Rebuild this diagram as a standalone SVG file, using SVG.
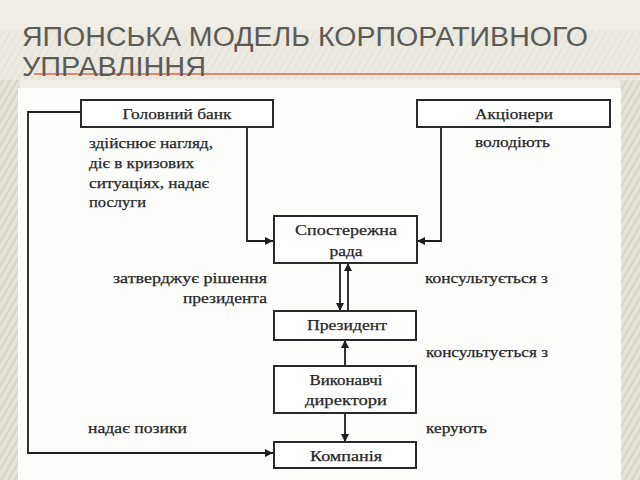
<svg xmlns="http://www.w3.org/2000/svg" width="640" height="480" viewBox="0 0 640 480">
  <defs>
    <pattern id="stripes" width="6" height="6" patternUnits="userSpaceOnUse" patternTransform="rotate(30)">
      <rect width="6" height="6" fill="#e6e3d9"/>
      <rect width="2" height="6" fill="#d7d3c6"/>
    </pattern>
    <marker id="arr" viewBox="0 0 10 10" refX="10" refY="5" markerWidth="10" markerHeight="8" markerUnits="userSpaceOnUse" orient="auto">
      <path d="M0,0 L10,5 L0,10 z" fill="#1e1e1e"/>
    </marker>
    <style>
      .title { font-family: "Liberation Sans", Arial, sans-serif; font-size: 27px; fill: #5b5b58; }
      .box { fill: #ffffff; stroke: #2a2a2a; stroke-width: 2; }
      .lbl { font-family: "Liberation Serif", "Times New Roman", serif; font-size: 15px; fill: #262626; stroke: #262626; stroke-width: 0.25; }
      .c { text-anchor: middle; }
      .r { text-anchor: end; }
      .ln { fill: none; stroke: #1e1e1e; stroke-width: 1.8; }
    </style>
  </defs>

  <!-- background -->
  <rect width="640" height="480" fill="#efede6"/>
  <rect x="0" y="80" width="20" height="400" fill="url(#stripes)"/>
  <rect x="620" y="80" width="20" height="400" fill="url(#stripes)"/>
  <rect x="0" y="30" width="640" height="50" fill="url(#stripes)" opacity="0.35"/>

  <!-- title -->
  <text class="title" x="22" y="46" textLength="566" lengthAdjust="spacingAndGlyphs">ЯПОНСЬКА МОДЕЛЬ КОРПОРАТИВНОГО</text>
  <line x1="34" y1="74" x2="640" y2="74" stroke="#d9694c" stroke-width="1.3"/>
  <text class="title" x="22" y="76" textLength="184" lengthAdjust="spacingAndGlyphs">УПРАВЛІННЯ</text>

  <!-- picture panel -->
  <rect x="18" y="88" width="603" height="392" fill="#fdfdfc"/>

  <!-- connectors -->
  <g id="connectors">
    <polyline class="ln" points="247,127 247,241 273,241" marker-end="url(#arr)"/>
    <polyline class="ln" points="441,127 441,241 417,241" marker-end="url(#arr)"/>
    <polyline class="ln" points="81,112 28,112 28,453 273,453" marker-end="url(#arr)"/>
    <line class="ln" x1="340" y1="263" x2="340" y2="311" marker-end="url(#arr)"/>
    <line class="ln" x1="348" y1="311" x2="348" y2="263" marker-end="url(#arr)"/>
    <line class="ln" x1="345" y1="366" x2="345" y2="340" marker-end="url(#arr)"/>
    <line class="ln" x1="345" y1="413" x2="345" y2="442" marker-end="url(#arr)"/>
  </g>

  <!-- nodes -->
  <g id="golovnyi-bank">
    <rect class="box" x="81" y="100" width="192" height="27"/>
    <text class="lbl c" x="177" y="119" textLength="109" lengthAdjust="spacingAndGlyphs">Головний банк</text>
  </g>
  <g id="aktsionery">
    <rect class="box" x="417" y="100" width="193" height="27"/>
    <text class="lbl c" x="514" y="119" textLength="78" lengthAdjust="spacingAndGlyphs">Акціонери</text>
  </g>
  <g id="sposterezhna-rada">
    <rect class="box" x="274" y="216" width="143" height="47"/>
    <text class="lbl c" x="346" y="235" textLength="102" lengthAdjust="spacingAndGlyphs">Спостережна</text>
    <text class="lbl c" x="346" y="256" textLength="33" lengthAdjust="spacingAndGlyphs">рада</text>
  </g>
  <g id="prezydent">
    <rect class="box" x="274" y="311" width="142" height="29"/>
    <text class="lbl c" x="347" y="330" textLength="80" lengthAdjust="spacingAndGlyphs">Президент</text>
  </g>
  <g id="vykonavchi-dyrektory">
    <rect class="box" x="274" y="366" width="142" height="47"/>
    <text class="lbl c" x="346" y="385" textLength="73" lengthAdjust="spacingAndGlyphs">Виконавчі</text>
    <text class="lbl c" x="346" y="405" textLength="82" lengthAdjust="spacingAndGlyphs">директори</text>
  </g>
  <g id="kompaniia">
    <rect class="box" x="274" y="442" width="142" height="26"/>
    <text class="lbl c" x="346" y="461" textLength="72" lengthAdjust="spacingAndGlyphs">Компанія</text>
  </g>

  <!-- connector labels -->
  <g id="labels">
    <text class="lbl" x="89" y="148" textLength="124" lengthAdjust="spacingAndGlyphs">здійснює нагляд,</text>
    <text class="lbl" x="89" y="168" textLength="105" lengthAdjust="spacingAndGlyphs">діє в кризових</text>
    <text class="lbl" x="89" y="188" textLength="120" lengthAdjust="spacingAndGlyphs">ситуаціях, надає</text>
    <text class="lbl" x="89" y="207" textLength="57" lengthAdjust="spacingAndGlyphs">послуги</text>
    <text class="lbl" x="475" y="147" textLength="75" lengthAdjust="spacingAndGlyphs">володіють</text>
    <text class="lbl r" x="267" y="283" textLength="154" lengthAdjust="spacingAndGlyphs">затверджує рішення</text>
    <text class="lbl r" x="267" y="303" textLength="84" lengthAdjust="spacingAndGlyphs">президента</text>
    <text class="lbl" x="425" y="283" textLength="123" lengthAdjust="spacingAndGlyphs">консультується з</text>
    <text class="lbl" x="426" y="357" textLength="122" lengthAdjust="spacingAndGlyphs">консультується з</text>
    <text class="lbl" x="88" y="433" textLength="99" lengthAdjust="spacingAndGlyphs">надає позики</text>
    <text class="lbl" x="426" y="433" textLength="61" lengthAdjust="spacingAndGlyphs">керують</text>
  </g>
</svg>
